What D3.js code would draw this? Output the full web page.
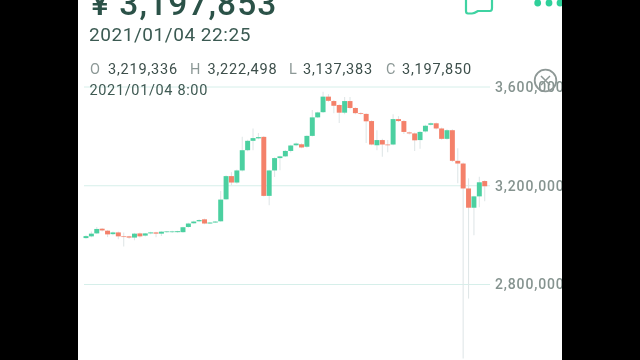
<!DOCTYPE html>
<html><head><meta charset="utf-8">
<script src="https://cdn.jsdelivr.net/npm/d3@7/dist/d3.min.js"></script>
<style>html,body{margin:0;padding:0;background:#000;overflow:hidden}svg{display:block}</style>
</head><body><svg id="c" width="640" height="360"></svg>
<script>
const opens=[2988,2995,3007,3026,3018,3004,3011,2995,2995,2990,3007,2998,3007,3011,3006,3012,3012,3012,3012,3033,3048,3056,3064,3047,3051,3056,3145,3239,3213,3262,3344,3382,3392,3398,3159,3262,3312,3319,3341,3364,3368,3358,3402,3477,3498,3561,3543,3527,3496,3543,3515,3494,3491,3462,3364,3385,3367,3367,3470,3462,3416,3412,3385,3420,3447,3453,3432,3390,3425,3301,3290,3189,3111,3157,3219];
const highs=[3000,3015,3033,3029,3021,3015,3015,3011,2997,3009,3011,3009,3014,3014,3016,3017,3018,3018,3034,3050,3058,3064,3067,3053,3057,3179,3243,3255,3266,3398,3386,3432,3414,3402,3265,3315,3322,3345,3366,3375,3372,3405,3507,3500,3581,3571,3547,3530,3560,3560,3518,3498,3494,3465,3425,3390,3385,3490,3482,3466,3420,3416,3422,3447,3456,3456,3436,3429,3429,3352,3294,3230,3160,3236,3222];
const lows=[2985,2991,3005,3015,2992,2999,2983,2954,2985,2979,2990,2994,3004,2991,2996,3010,3009,3010,3010,3030,3046,3054,3044,3045,3049,3054,3143,3202,3208,3258,3340,3344,3388,3156,3121,3235,3263,3316,3335,3360,3352,3354,3399,3474,3495,3540,3494,3454,3490,3510,3490,3488,3373,3364,3344,3317,3336,3364,3458,3410,3408,3341,3350,3416,3444,3428,3386,3386,3296,3210,2500,2743,2999,3113,3137];
const closes=[2996,3006,3025,3019,3003,3011,2995,2993,2990,3006,2995,3007,3011,3006,3014,3015,3015,3016,3032,3047,3055,3061,3047,3051,3055,3144,3239,3213,3262,3344,3382,3393,3397,3159,3262,3312,3319,3341,3363,3371,3355,3402,3477,3497,3561,3544,3524,3496,3543,3515,3494,3491,3461,3367,3385,3367,3364,3470,3462,3418,3412,3384,3418,3443,3453,3432,3390,3425,3301,3290,3189,3111,3157,3214,3198];
const axisTicks=[2800,3200,3600];
const headline="¥ 3,197,853";
const stamp="2021/01/04 22:25";
const ohlcLabels=[["O","3,219,336"],["H","3,222,498"],["L","3,137,383"],["C","3,197,850"]];
const candleTime="2021/01/04 8:00";

const FONT="Roboto, 'Noto Sans', sans-serif";
const svg=d3.select("#c");
const root=svg.append("g").style("filter","blur(0.5px)");
root.append("rect").attr("x",78).attr("y",0).attr("width",484).attr("height",360).attr("fill","#fff");

const x=d3.scaleBand().domain(d3.range(opens.length)).range([83.3,487.4]).paddingInner(0.08).paddingOuter(0.04);
const y=d3.scaleLinear().domain([2800,3600]).range([284.5,87]);

const axis=d3.axisRight(y).tickValues(axisTicks).tickSize(0).tickPadding(0).tickFormat(v=>d3.format(",")(v*1000));
const ag=root.append("g").attr("transform","translate(495,0)").call(axis);
ag.select(".domain").remove();
ag.selectAll("text").attr("x",0).attr("fill","#85938f").style("font",`500 14px ${FONT}`).style("letter-spacing","0.85px");

root.append("g").selectAll("line").data(axisTicks).join("line")
  .attr("x1",84).attr("x2",490).attr("y1",d=>y(d)).attr("y2",d=>y(d))
  .attr("stroke","#d6efea").attr("stroke-width",1);

const idx=d3.range(opens.length);
const col=i=>closes[i]>=opens[i]?"#4bd0a0":"#f4816a";
const cx=i=>x(i)+x.bandwidth()/2;
root.append("g").selectAll("line").data(idx).join("line")
  .attr("x1",cx).attr("x2",cx).attr("y1",i=>y(highs[i])).attr("y2",i=>y(lows[i]))
  .attr("stroke","#e0e7e8").attr("stroke-width",1.1);
root.append("g").selectAll("rect").data(idx).join("rect")
  .attr("x",i=>x(i)).attr("width",x.bandwidth())
  .attr("y",i=>y(Math.max(opens[i],closes[i])))
  .attr("height",i=>Math.max(0.7,Math.abs(y(opens[i])-y(closes[i]))))
  .attr("fill",col);

root.append("text").attr("x",91).attr("y",14.5).attr("fill","#2b5248")
  .style("font",`500 33.5px ${FONT}`).style("letter-spacing","1.1px").text(headline);
root.append("text").attr("x",89).attr("y",41).attr("fill","#3b5a52")
  .style("font",`400 19px ${FONT}`).style("letter-spacing","0.55px").text(stamp);

const ox=[90,190,289,386], lx=[108,207.5,303,402];
ohlcLabels.forEach((d,i)=>{
  root.append("text").attr("x",ox[i]).attr("y",74).attr("fill","#8c9896").style("font",`400 14.5px ${FONT}`).text(d[0]);
  root.append("text").attr("x",lx[i]).attr("y",74).attr("fill","#3d4f4b").style("font",`400 14.5px ${FONT}`).style("letter-spacing","0.8px").text(d[1]);
});
root.append("text").attr("x",89.5).attr("y",95).attr("fill","#3f5a53").style("font",`400 14.5px ${FONT}`).style("letter-spacing","0.65px").text(candleTime);

// chat icon, menu dots, close button
root.append("path").attr("d","M466,-3 V11 Q466,13.5 468,13.5 L472,13.5 Q474,13.5 478,11 H490 Q492,11 492,8 V-3").attr("fill","none").attr("stroke","#3fd3a2").attr("stroke-width",2.2).attr("stroke-linejoin","round");
root.append("g").selectAll("circle").data([537.7,549,560]).join("circle").attr("cx",d=>d).attr("cy",3).attr("r",3.4).attr("fill","#2fd09a");
const cb=root.append("g").attr("fill","none").attr("stroke","#8e9896");
cb.append("circle").attr("cx",545.5).attr("cy",80.5).attr("r",10.8).attr("stroke-width",1.8);
cb.append("path").attr("d","M541,76 L550,85 M550,76 L541,85").attr("stroke-width",1.5);

svg.append("rect").attr("x",0).attr("y",0).attr("width",78).attr("height",360).attr("fill","#000");
svg.append("rect").attr("x",562).attr("y",0).attr("width",78).attr("height",360).attr("fill","#000");
</script></body></html>
